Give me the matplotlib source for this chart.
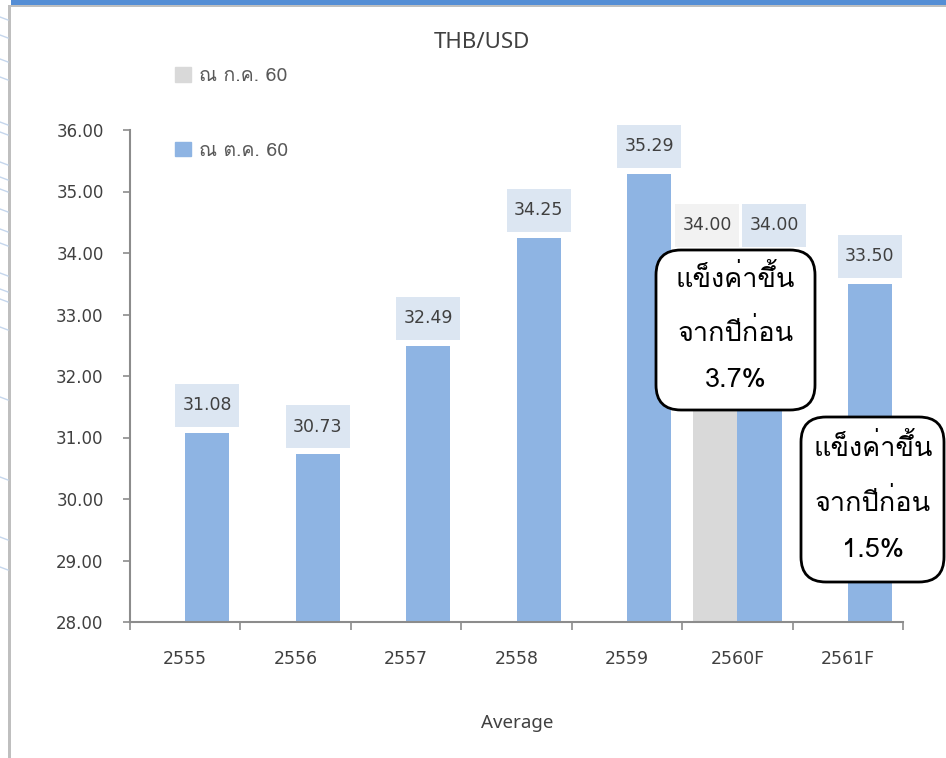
import matplotlib
matplotlib.use("Agg")
import matplotlib.pyplot as plt
import numpy as np
from matplotlib import font_manager, ft2font
from matplotlib import transforms as mtransforms
from matplotlib.patches import Patch, Rectangle, FancyBboxPatch
from matplotlib.lines import Line2D

years = ['2555', '2556', '2557', '2558', '2559', '2560F', '2561F']
jul_60 = [np.nan, np.nan, np.nan, np.nan, np.nan, 34.00, np.nan]
oct_60 = [31.08, 30.73, 32.49, 34.25, 35.29, 34.00, 33.50]
series_names = ['ณ ก.ค. 60', 'ณ ต.ค. 60']
note_2560 = 'แข็งค่าขึ้น\nจากปีก่อน\n3.7%'
note_2561 = 'แข็งค่าขึ้น\nจากปีก่อน\n1.5%'


def thai_family():
    # pick the first installed font that carries Thai glyphs
    for f in font_manager.fontManager.ttflist:
        try:
            cmap = ft2font.FT2Font(f.fname).get_charmap()
        except Exception:
            continue
        if 0x0E41 in cmap and 0x0E02 in cmap and 0x0E48 in cmap:
            return f.name
    return 'DejaVu Sans'


thai = thai_family()
fam = [thai, 'DejaVu Sans']

GREY = '#D9D9D9'
BLUE = '#8EB4E3'
TXT = '#404040'
AXC = '#8C8C8C'

fig = plt.figure(figsize=(9.46, 7.58), dpi=100)
ax = fig.add_axes([130 / 946, 1 - 622 / 758, 773 / 946, 492 / 758])

x = np.arange(len(years))
w = 0.4
ax.bar(x - w / 2, jul_60, w, color=GREY, zorder=2)
ax.bar(x + w / 2, oct_60, w, color=BLUE, zorder=2)

ax.set_xlim(-0.5, len(years) - 0.5)
ax.set_ylim(28, 36)

# value labels above each bar (box size in inches, relative to the bar top)
nudge = {(0, 5): -0.08, (1, 5): 0.15}
for k, (xs, vals, face) in enumerate(((x - w / 2, jul_60, '#F2F2F2'),
                                      (x + w / 2, oct_60, '#DCE6F2'))):
    for i, (xi, v) in enumerate(zip(xs, vals)):
        if np.isnan(v):
            continue
        dx = nudge.get((k, i), 0.0)
        tr = fig.dpi_scale_trans + mtransforms.ScaledTranslation(xi, v, ax.transData)
        ax.add_patch(Rectangle((dx - 0.32, 0.06), 0.64, 0.43, transform=tr,
                               fc=face, ec='none', zorder=3, clip_on=False))
        ax.annotate(f'{v:.2f}', (xi, v), xytext=(dx * 72, 0.275 * 72),
                    textcoords='offset points', ha='center', va='center',
                    fontsize=12.5, color=TXT, family='DejaVu Sans', zorder=4)

# y axis
yt = np.arange(28, 36.01, 1)
ax.set_yticks(yt)
ax.set_yticklabels([f'{v:.2f}' for v in yt])
ax.tick_params(axis='y', length=5, width=1.2, color=AXC, labelsize=12,
               labelcolor=TXT, pad=14)

# x axis: ticks on category borders, labels in the middle
ax.set_xticks(np.arange(-0.5, len(years), 1))
ax.set_xticklabels([])
ax.set_xticks(x, minor=True)
ax.set_xticklabels(years, minor=True)
ax.tick_params(axis='x', which='major', length=6, width=1.2, color=AXC)
ax.tick_params(axis='x', which='minor', length=0, labelsize=12.5,
               labelcolor=TXT, pad=20)

for s in ('top', 'right'):
    ax.spines[s].set_visible(False)
for s in ('left', 'bottom'):
    ax.spines[s].set_color(AXC)
    ax.spines[s].set_linewidth(1.5)

# callouts, placed in inches from the lower left corner
callouts = [((6.56, 3.48, 1.59, 1.60), (7.355, 4.30), note_2560),
            ((8.01, 1.76, 1.43, 1.65), (8.73, 2.605), note_2561)]
for (bx, by, bw, bh), (tx, ty), txt in callouts:
    fig.add_artist(FancyBboxPatch((bx, by), bw, bh, transform=fig.dpi_scale_trans,
                                  boxstyle='round,pad=0,rounding_size=0.25',
                                  fc='white', ec='black', lw=2, zorder=5))
    fig.text(tx, ty, txt, transform=fig.dpi_scale_trans, ha='center', va='center',
             fontsize=19.5, family=fam, color='black', linespacing=2.15, zorder=6)

fig.text(482 / 946, 1 - 42 / 758, 'THB/USD', ha='center', va='center',
         fontsize=16, family='Noto Sans', color=TXT)
fig.text(517 / 946, 1 - 723 / 758, 'Average', ha='center', va='center',
         fontsize=13.5, family='Noto Sans', color=TXT)

handles = [Patch(color=GREY), Patch(color=BLUE)]
leg = fig.legend(handles, series_names, loc='upper left',
                 bbox_to_anchor=(175 / 946, 1 - 67 / 758), frameon=False,
                 prop=dict(family=fam, size=14), handlelength=0.8,
                 handleheight=0.8, handletextpad=0.45, labelspacing=2.9,
                 borderpad=0, borderaxespad=0)
for t in leg.get_texts():
    t.set_color('#595959')

# frame decoration
fig.add_artist(Rectangle((11 / 946, 1 - 5 / 758), 1, 5 / 758, transform=fig.transFigure,
                         fc='#558ED5', ec='none'))
fig.add_artist(Rectangle((11 / 946, 1 - 7 / 758), 1, 2 / 758, transform=fig.transFigure,
                         fc='#BFBFBF', ec='none'))
fig.add_artist(Rectangle((8 / 946, 0), 3 / 946, 1 - 5 / 758, transform=fig.transFigure,
                         fc='#BFBFBF', ec='none'))
for yy in (20, 38, 62, 80, 125, 135, 165, 180, 192, 212, 232, 246, 276, 292, 302, 330,
           400, 480, 540, 570):
    fig.add_artist(Line2D([0, 8 / 946], [1 - (yy - 3) / 758, 1 - yy / 758],
                          transform=fig.transFigure, color='#C5D6EC', lw=1))

fig.savefig('out.png', dpi=100)
